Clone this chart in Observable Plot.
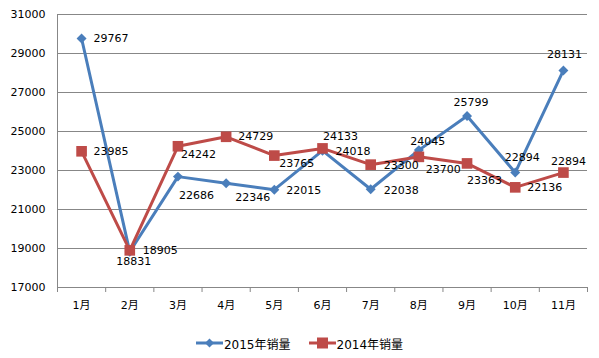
<!DOCTYPE html>
<html><head><meta charset="utf-8">
<script src="https://cdn.jsdelivr.net/npm/d3@7"></script>
<script src="https://cdn.jsdelivr.net/npm/@observablehq/plot@0.6"></script>
<style>
body{margin:0;background:#fff;font-family:"DejaVu Sans","Noto Sans CJK SC",sans-serif;}
#legend{display:flex;justify-content:center;align-items:center;height:30px;font-size:12px;color:#000;padding-left:0px}
#legend .item{display:flex;align-items:center;margin:0 9px}
</style>
</head><body>
<div id="chart"></div>
<div id="legend"></div>
<script>
// ---- data ----
const months = ["1月","2月","3月","4月","5月","6月","7月","8月","9月","10月","11月"];
const sales2015 = [29767,18831,22686,22346,22015,24018,22038,24045,25799,22894,28131];
const sales2014 = [23985,18905,24242,24729,23765,24133,23300,23700,23363,22136,22894];
const yTicks = [17000,19000,21000,23000,25000,27000,29000,31000];
const seriesNames = ["2015年销量","2014年销量"];

// ---- label placement (style, not data) ----
const lab2015 = [[12,0,"start"],[4,10,"middle"],[1,19,"start"],[9,14,"start"],[12,1,"start"],[13,1,"start"],[13,1,"start"],[9,-9,"middle"],[4,-13,"middle"],[7,-15,"middle"],[1,-16,"middle"]];
const lab2014 = [[12,0,"start"],[13,0,"start"],[3,8,"start"],[12,0,"start"],[5,8,"start"],[18,-12,"middle"],[13,1,"start"],[7,13,"start"],[0,17,"start"],[12,0,"start"],[5,-11,"middle"]];

const blue = "#4A7EBB", red = "#BE4B48", gridC = "#878787";
const font = '"DejaVu Sans","Noto Sans CJK SC",sans-serif';

const idx = months.map((m,i)=>i+1);
const bounds = d3.range(months.length+1).map(i=>i+0.5);
const d15 = sales2015.map((v,i)=>({i:i+1,v}));
const d14 = sales2014.map((v,i)=>({i:i+1,v}));

function labels(data, lab){
  return data.map((d,k)=>Plot.text([d],{x:"i",y:"v",text:d=>String(d.v),dx:lab[k][0],dy:lab[k][1],textAnchor:lab[k][2],fill:"#000",fontSize:11}));
}

const chart = Plot.plot({
  width:599, height:328,
  marginLeft:57, marginRight:12, marginTop:14, marginBottom:41,
  style:{fontFamily:font, fontSize:"11px", color:"#000", background:"#fff"},
  x:{type:"linear", domain:[bounds[0], bounds[bounds.length-1]], label:null},
  y:{domain:[yTicks[0], yTicks[yTicks.length-1]], label:null},
  marks:[
    Plot.ruleY(yTicks.slice(1),{stroke:gridC, strokeWidth:1}),
    Plot.ruleY([yTicks[0]],{stroke:gridC, strokeWidth:1}),
    Plot.ruleX([bounds[0]],{stroke:gridC, strokeWidth:1}),
    Plot.axisY({ticks:yTicks, tickSize:0, tickPadding:12, tickFormat:d=>String(d), fill:"#000", fontSize:11, label:null}),
    Plot.axisX({ticks:bounds, tickSize:5, tickFormat:()=>"", stroke:gridC, label:null}),
    Plot.axisX({ticks:idx, tickSize:0, tickPadding:14, tickFormat:i=>months[i-1], fill:"#000", fontSize:11, label:null}),
    Plot.line(d15,{x:"i",y:"v",stroke:blue,strokeWidth:3}),
    Plot.dot(d15,{x:"i",y:"v",symbol:"diamond2",r:4.5,fill:blue,stroke:"none"}),
    Plot.line(d14,{x:"i",y:"v",stroke:red,strokeWidth:3}),
    Plot.dot(d14,{x:"i",y:"v",symbol:"square",r:6,fill:red,stroke:"none"}),
    ...labels(d15, lab2015),
    ...labels(d14, lab2014)
  ]
});
document.getElementById("chart").appendChild(chart);

// legend
const leg = document.getElementById("legend");
const legItems = [
  {name:seriesNames[0], color:blue, shape:"diamond"},
  {name:seriesNames[1], color:red, shape:"square"}
];
for (const it of legItems){
  const div = document.createElement("div"); div.className="item";
  const shape = it.shape==="diamond"
    ? `<path d="M13.5,8.5 L18,13 L13.5,17.5 L9,13 Z" fill="${it.color}"/>`
    : `<rect x="8" y="7.5" width="11" height="11" fill="${it.color}"/>`;
  div.innerHTML = `<svg width="28" height="26"><line x1="0" x2="27" y1="13" y2="13" stroke="${it.color}" stroke-width="3"/>${shape}</svg><span>${it.name}</span>`;
  leg.appendChild(div);
}
</script>
</body></html>
